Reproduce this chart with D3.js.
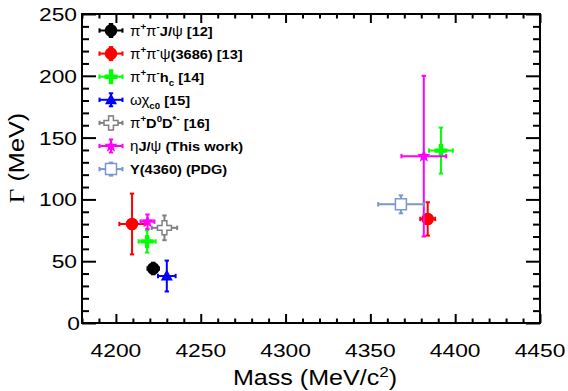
<!DOCTYPE html>
<html>
<head>
<meta charset="utf-8">
<script src="https://cdn.jsdelivr.net/npm/d3@7"></script>
<style>
  html, body { margin: 0; padding: 0; background: #fff; }
  svg { display: block; }
  text { font-family: "Liberation Sans", Arial, Helvetica, sans-serif; fill: #000; }
</style>
</head>
<body>
<svg id="chart" width="568" height="391"></svg>
<script>
// ---------- data ----------
const seriesNames = [
  "pipiJpsi", "pipiPsi3686", "pipiHc", "omegaChic0", "piDD", "etaJpsi", "Y4360PDG"
];
const seriesMass     = [[4222.0], [4209.5, 4383.8], [4218.4, 4391.6], [4230.0], [4228.6], [4218.6, 4381.5], [4368.0]];
const seriesMassErr  = [[3.4],    [7.5, 4.4],       [5.0, 7.0],       [5.2],    [7.5],    [4.1, 13.2],      [13.4]];
const seriesWidth    = [[44.1],   [80.1, 84.2],     [66.0, 139.5],    [38.0],   [77.0],   [82.0, 135.0],    [96.0]];
const seriesWidthErr = [[4.7],    [24.6, 13.5],     [9.0, 18.6],      [12.5],   [10.0],   [5.8, 65.0],      [7.3]];
const seriesColors   = ["#000000", "#ff0000", "#00ff00", "#0000ff", "#808080", "#ff00ff", "#7b96d4"];
const seriesMarkers  = ["circle", "circle", "plus", "triangle", "openplus", "star", "opensquare"];
// legend labels: array of [text, kind] parts; kind: n=normal, g=greek, sup, sub
const legendLabels = [
  [["π","g"],["+","sup"],["π","g"],["-","sup"],["J/","n"],["ψ","g"],[" [12]","n"]],
  [["π","g"],["+","sup"],["π","g"],["-","sup"],["ψ","g"],["(3686) [13]","n"]],
  [["π","g"],["+","sup"],["π","g"],["-","sup"],["h","n"],["c","sub"],[" [14]","n"]],
  [["ωχ","g"],["c0","sub"],[" [15]","n"]],
  [["π","g"],["+","sup"],["D","n"],["0","sup"],["D","n"],["*-","sup"],[" [16]","n"]],
  [["η","g"],["J/","n"],["ψ","g"],[" (This work)","n"]],
  [["Y(4360) (PDG)","n"]]
];
const xTicks = [4200, 4250, 4300, 4350, 4400, 4450];
const yTicks = [0, 50, 100, 150, 200, 250];
const xDomain = [4180, 4450];
const yDomain = [0, 250];

// ---------- layout ----------
const L = 82, R = 540, T = 14, B = 323;
const svg = d3.select("#chart");
const x = d3.scaleLinear().domain(xDomain).range([L, R]);
const y = d3.scaleLinear().domain(yDomain).range([B, T]);

// ---------- axes (ROOT-like inward ticks on all four sides) ----------
const xMinor = d3.range(xDomain[0], xDomain[1] + 0.1, 10);
const yMinor = d3.range(yDomain[0], yDomain[1] + 0.1, 10);
const XMAJ = 9, XMIN = 4.5, YMAJ = 14, YMIN = 7;

function tickLen(v, majors, maj, min) { return majors.includes(v) ? maj : min; }

const axG = svg.append("g").attr("stroke", "#000").attr("stroke-width", 2);
// bottom axis via d3.axisBottom with inward ticks
const bottomAxis = d3.axisBottom(x).tickValues(xMinor).tickFormat("").tickSizeOuter(0);
const gb = svg.append("g").attr("transform", `translate(0,${B})`).call(bottomAxis);
gb.select(".domain").remove();
gb.selectAll(".tick line").attr("y2", d => -tickLen(d, xTicks.concat([]), XMAJ, XMIN)).attr("stroke-width", 2);
const gt = svg.append("g").attr("transform", `translate(0,${T})`).call(d3.axisTop(x).tickValues(xMinor).tickFormat("").tickSizeOuter(0));
gt.select(".domain").remove();
gt.selectAll(".tick line").attr("y2", d => tickLen(d, xTicks, XMAJ, XMIN)).attr("stroke-width", 2);
const gl = svg.append("g").attr("transform", `translate(${L},0)`).call(d3.axisLeft(y).tickValues(yMinor).tickFormat("").tickSizeOuter(0));
gl.select(".domain").remove();
gl.selectAll(".tick line").attr("x2", d => tickLen(d, yTicks, YMAJ, YMIN)).attr("stroke-width", 2);
const gr = svg.append("g").attr("transform", `translate(${R},0)`).call(d3.axisRight(y).tickValues(yMinor).tickFormat("").tickSizeOuter(0));
gr.select(".domain").remove();
gr.selectAll(".tick line").attr("x2", d => -tickLen(d, yTicks, YMAJ, YMIN)).attr("stroke-width", 2);

// frame
svg.append("rect").attr("x", L).attr("y", T).attr("width", R - L).attr("height", B - T)
  .attr("fill", "none").attr("stroke", "#000").attr("stroke-width", 2);

// tick labels (stretched Helvetica-like)
const SX = 1.2;
xTicks.forEach(v => {
  svg.append("text").attr("transform", `translate(${x(v)},357) scale(${SX},1)`)
    .attr("text-anchor", "middle").attr("font-size", 19).text(v);
});
yTicks.forEach(v => {
  svg.append("text").attr("transform", `translate(${v === 0 ? 80 : 77},${y(v) + 7}) scale(${SX},1)`)
    .attr("text-anchor", "end").attr("font-size", 19).text(v);
});

// axis titles
const xt = svg.append("text").attr("transform", `translate(315,385) scale(1.14,1)`)
  .attr("text-anchor", "middle").attr("font-size", 22);
xt.append("tspan").text("Mass (MeV/c");
xt.append("tspan").attr("font-size", 15).attr("dy", -8).text("2");
xt.append("tspan").attr("dy", 8).text(")");

const yt = svg.append("text").attr("transform", `translate(24,158) rotate(-90) scale(1.15,1)`)
  .attr("text-anchor", "middle").attr("font-size", 22);
yt.append("tspan").attr("font-family", "'Liberation Serif', 'Times New Roman', serif").text("Γ");
yt.append("tspan").text(" (MeV)");

// ---------- markers ----------
function markerPath(kind) {
  switch (kind) {
    case "triangle": return "M0,-6.5L6,4.5L-6,4.5Z";
    case "plus": { const a = 2.2, b = 6.5;
      return `M${-a},${-b}H${a}V${-a}H${b}V${a}H${a}V${b}H${-a}V${a}H${-b}V${-a}H${-a}Z`; }
    case "openplus": { const a = 2.4, b = 7;
      return `M${-a},${-b}H${a}V${-a}H${b}V${a}H${a}V${b}H${-a}V${a}H${-b}V${-a}H${-a}Z`; }
    case "star": {
      const pts = [];
      for (let i = 0; i < 10; i++) {
        const r = i % 2 === 0 ? 7 : 2.9;
        const ang = -Math.PI / 2 + i * Math.PI / 5;
        pts.push([r * Math.cos(ang), r * Math.sin(ang)]);
      }
      return "M" + pts.map(p => p.join(",")).join("L") + "Z";
    }
    case "opensquare": return "M-5.5,-5.5H5.5V5.5H-5.5Z";
    default: return null;
  }
}
function drawMarker(g, kind, color, cx, cy) {
  if (kind === "circle") {
    g.append("circle").attr("cx", cx).attr("cy", cy).attr("r", 5.3).attr("fill", color);
    return;
  }
  const open = kind.startsWith("open");
  g.append("path").attr("d", markerPath(kind)).attr("transform", `translate(${cx},${cy})`)
    .attr("fill", open ? "#fff" : color).attr("stroke", open ? color : "none")
    .attr("stroke-width", open ? 1.5 : 0);
}
function drawErr(g, color, x1, x2, y1, y2, cx, cy) {
  const cap = 2.2;
  g.append("line").attr("x1", x1).attr("x2", x2).attr("y1", cy).attr("y2", cy);
  g.append("line").attr("x1", cx).attr("x2", cx).attr("y1", y1).attr("y2", y2);
  g.append("line").attr("x1", x1).attr("x2", x1).attr("y1", cy - cap).attr("y2", cy + cap);
  g.append("line").attr("x1", x2).attr("x2", x2).attr("y1", cy - cap).attr("y2", cy + cap);
  g.append("line").attr("x1", cx - cap).attr("x2", cx + cap).attr("y1", y1).attr("y2", y1);
  g.append("line").attr("x1", cx - cap).attr("x2", cx + cap).attr("y1", y2).attr("y2", y2);
}

// ---------- data points ----------
seriesNames.forEach((name, s) => {
  const g = svg.append("g").attr("class", "series " + name)
    .attr("stroke", seriesColors[s]).attr("stroke-width", 2);
  seriesMass[s].forEach((m, i) => {
    const cx = x(m), cy = y(seriesWidth[s][i]);
    drawErr(g, seriesColors[s],
      x(m - seriesMassErr[s][i]), x(m + seriesMassErr[s][i]),
      y(seriesWidth[s][i] + seriesWidthErr[s][i]), y(seriesWidth[s][i] - seriesWidthErr[s][i]), cx, cy);
    drawMarker(g, seriesMarkers[s], seriesColors[s], cx, cy);
  });
});

// ---------- legend ----------
const legX = 111, legY0 = 30.5, legDY = 23.1;
seriesNames.forEach((name, s) => {
  const ly = legY0 + s * legDY;
  const g = svg.append("g").attr("stroke", seriesColors[s]).attr("stroke-width", 2);
  drawErr(g, seriesColors[s], legX - 11.5, legX + 11.5, ly - 6.5, ly + 6.5, legX, ly);
  drawMarker(g, seriesMarkers[s], seriesColors[s], legX, ly);
  const t = svg.append("text").attr("transform", `translate(130,${ly + 5}) scale(1.08,1)`)
    .attr("font-size", 13.5).attr("font-weight", "bold");
  let shift = 0;
  legendLabels[s].forEach(([str, kind]) => {
    const sp = t.append("tspan").text(str);
    let target = 0;
    if (kind === "g") sp.attr("font-weight", "normal").attr("font-size", 14);
    if (kind === "sup") { sp.attr("font-size", 9); target = -6; }
    if (kind === "sub") { sp.attr("font-size", 9); target = 4; }
    sp.attr("dy", target - shift);
    shift = target;
  });
});
</script>
</body>
</html>
